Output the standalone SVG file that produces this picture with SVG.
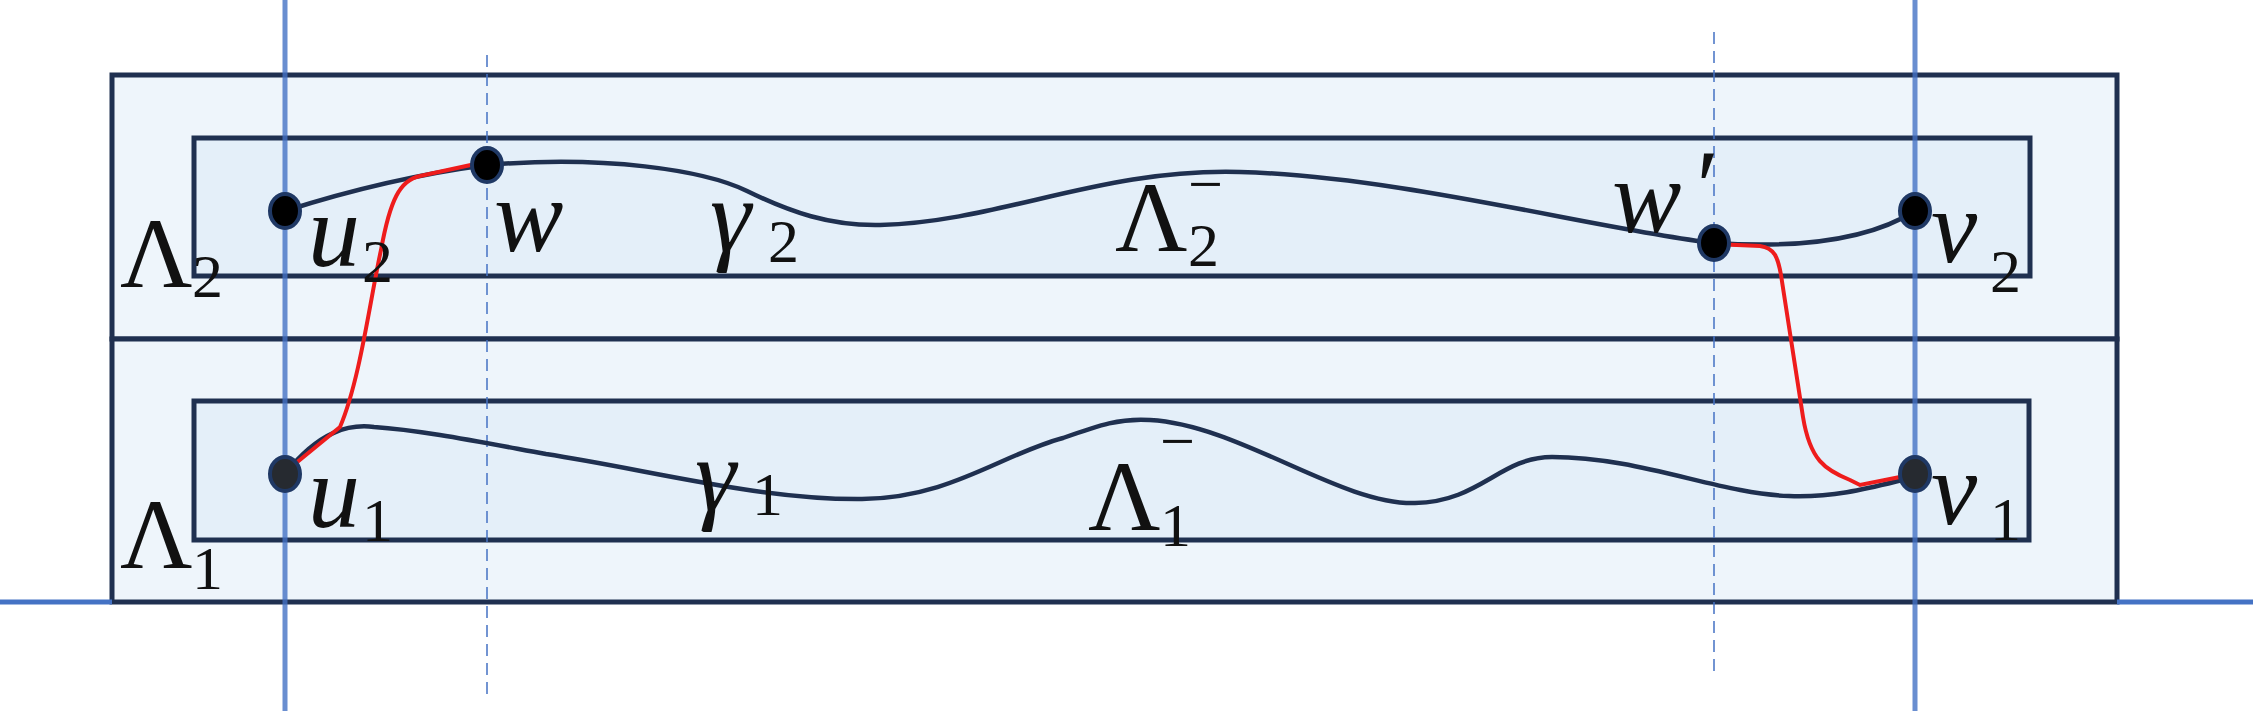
<svg xmlns="http://www.w3.org/2000/svg" width="2253" height="715" viewBox="0 0 2253 715">
<style>
.box{stroke:#1f3050;stroke-width:5}
.axis{stroke:#4472c4;stroke-width:5;fill:none}
.dash{stroke:#4472c4;stroke-width:1.5;stroke-dasharray:12,7;fill:none}
.curve{fill:none;stroke:#1f3050;stroke-width:4.5}
.red{fill:none;stroke:#ee1c1c;stroke-width:4}
.node{stroke:#1f3864;stroke-width:4}
.m{font-family:"Liberation Serif",serif;font-size:104px;font-style:italic;fill:#111}
.g{font-family:"Liberation Serif",serif;font-size:100px;fill:#111}
.s{font-family:"Liberation Serif",serif;font-size:62px;fill:#111}
</style>
<g id="regions">
<rect id="Lambda2" class="box" x="112" y="75" width="2005" height="264" fill="#eef5fb"/>
<rect id="Lambda1" class="box" x="112" y="339" width="2005" height="263" fill="#eef5fb"/>
<rect id="Lambda2minus" class="box" x="194" y="138" width="1836" height="138" fill="#e4eff9"/>
<rect id="Lambda1minus" class="box" x="194" y="401" width="1835" height="139" fill="#e4eff9"/>
</g>
<g id="axes">
<line class="axis" x1="285" y1="0" x2="285" y2="711" stroke-opacity="0.8"/>
<line class="axis" x1="1915" y1="0" x2="1915" y2="711" stroke-opacity="0.8"/>
<line class="axis" x1="0" y1="602" x2="112" y2="602"/>
<line class="axis" x1="2117" y1="602" x2="2253" y2="602"/>
<line class="dash" x1="487" y1="55" x2="487" y2="697"/>
<line class="dash" x1="1714" y1="32" x2="1714" y2="675"/>
</g>
<g id="connectors">
<path id="gamma2" class="curve" d="M285,211 Q388,178 487,165 C604,155 704,170 747,191 C790,212 830,226 880,225 C1000,222 1100,168 1240,172 C1400,176 1600,230 1714,243 Q1850,252 1915,211"/>
<path id="gamma1" class="curve" stroke="#34476a" d="M285,474 C320,430 350,424 374,427 C420,430 480,442 546,454 C650,470 760,500 862,499 C950,498 1000,455 1063,438 C1100,425 1120,418 1150,420 C1240,425 1340,505 1415,503 C1480,502 1500,457 1552,457 C1640,457 1720,494 1789,496 C1840,498 1880,485 1915,477"/>
<path class="red" d="M290,468 L340,427 C360,380 370,300 381,250 C390,200 400,180 420,176 L480,163"/>
<path class="red" d="M1714,244 L1760,246 C1775,248 1778,258 1781,275 L1803,417 C1810,460 1825,470 1850,480 L1860,485 L1905,476"/>
</g>
<g id="u2"><ellipse class="node" cx="285" cy="211" rx="15" ry="17" fill="#000"/></g>
<g id="w"><ellipse class="node" cx="487" cy="165" rx="15" ry="17" fill="#000"/></g>
<g id="wprime"><ellipse class="node" cx="1714" cy="243" rx="15" ry="17" fill="#000"/></g>
<g id="v2"><ellipse class="node" cx="1915" cy="211" rx="15" ry="17" fill="#000"/></g>
<g id="u1"><ellipse class="node" cx="285" cy="474" rx="15" ry="17" fill="#262a30"/></g>
<g id="v1"><ellipse class="node" cx="1915" cy="474" rx="15" ry="17" fill="#262a30"/></g>
<g id="labels">
<text class="g" x="120" y="287">Λ</text><text class="s" x="192" y="297">2</text>
<text class="g" x="120" y="568">Λ</text><text class="s" x="192" y="589">1</text>
<text class="m" x="308" y="266">u</text><text class="s" x="362" y="282">2</text>
<text class="m" x="308" y="527">u</text><text class="s" x="362" y="541">1</text>
<text class="m" x="494" y="251">w</text>
<text class="m" x="710" y="251">γ</text><text class="s" x="768" y="262">2</text>
<text class="g" x="1115" y="251">Λ</text><text class="s" x="1188" y="266">2</text><text class="s" x="1188" y="205">−</text>
<text class="m" x="1612" y="232">w</text><text class="m" x="1690" y="222" font-size="70">′</text>
<text class="m" x="1931" y="262">v</text><text class="s" x="1990" y="292">2</text>
<text class="m" x="695" y="510" fill="#404858">γ</text><text class="s" x="752" y="515" fill="#404858">1</text>
<text class="g" x="1088" y="530" fill="#222">Λ</text><text class="s" x="1160" y="546" fill="#222">1</text><text class="s" x="1160" y="462" fill="#222">−</text>
<text class="m" x="1931" y="524">v</text><text class="s" x="1990" y="540">1</text>
</g>
</svg>
